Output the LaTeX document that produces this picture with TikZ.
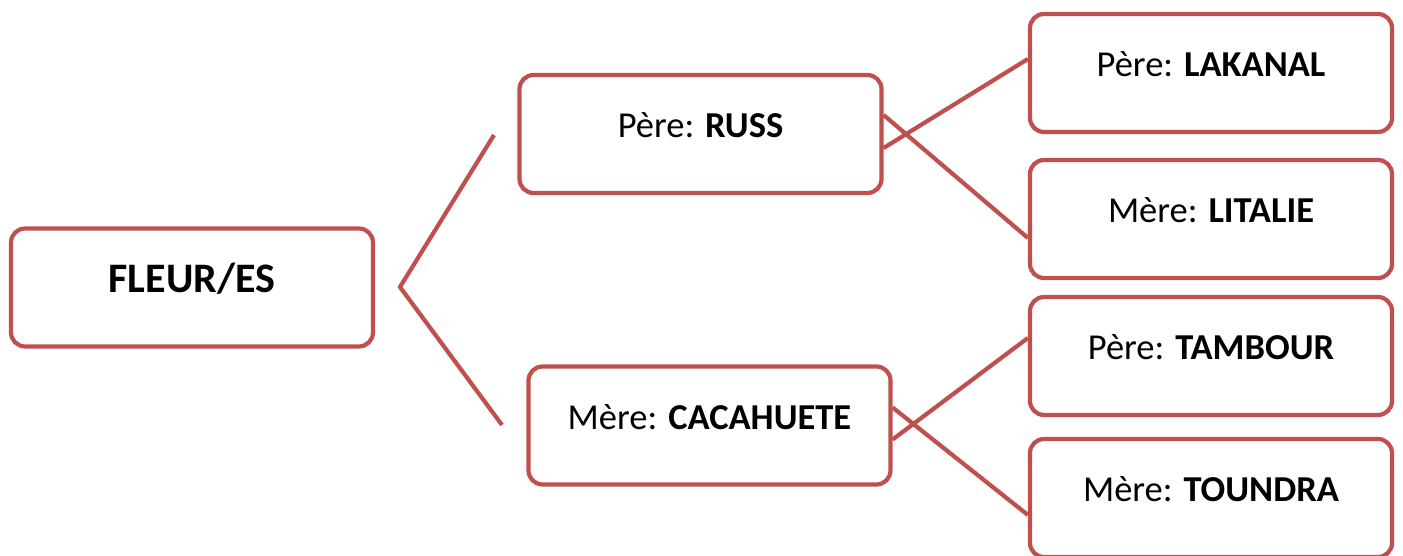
\documentclass[tikz,border=0pt]{standalone}
\usepackage{fontspec}
\setmainfont{Carlito}
\definecolor{accred}{HTML}{C0504D}
\tikzset{
  box/.style={draw=accred, line width=4.2pt, rounded corners=14pt, fill=white,
    minimum width=362pt, minimum height=118pt, inner sep=0pt,
    font=\fontsize{36.5}{42}\selectfont, text height=25pt, text depth=17pt},
  bigbox/.style={box, font=\fontsize{42}{48}\selectfont\bfseries, text height=29pt, text depth=18pt},
  link/.style={draw=accred, line width=4.2pt}
}
\begin{document}
\begin{tikzpicture}[x=1pt,y=1pt]
\useasboundingbox (0,0) rectangle (1403,556);
\clip (0,0) rectangle (1403,556);
\node[bigbox] (F) at (192,268.5) {FLEUR/ES};
\node[box] (R) at (700.5,422) {Père: \textbf{RUSS}};
\node[box] (C) at (709.5,130.5) {Mère: \textbf{CACAHUETE}};
\node[box] (L) at (1211,483) {Père: \textbf{LAKANAL}};
\node[box] (I) at (1211,337) {Mère: \textbf{LITALIE}};
\node[box] (T) at (1211,200) {Père: \textbf{TAMBOUR}};
\node[box] (D) at (1211,58) {Mère: \textbf{TOUNDRA}};
% connectors from FLEUR/ES
\coordinate (fa) at (400,269);
\coordinate (fr) at (494,421);
\coordinate (fc) at (502,131);
\draw[link] (fr) -- (fa) -- (fc);
% connectors from RUSS
\draw[link] ([yshift=-14pt]R.east) -- ([yshift=14pt]L.west);
\draw[link] ([yshift=19pt]R.east) -- ([yshift=-19pt]I.west);
% connectors from CACAHUETE
\draw[link] ([yshift=-14pt]C.east) -- ([yshift=18pt]T.west);
\draw[link] ([yshift=18pt]C.east) -- ([yshift=-17pt]D.west);
\end{tikzpicture}
\end{document}
